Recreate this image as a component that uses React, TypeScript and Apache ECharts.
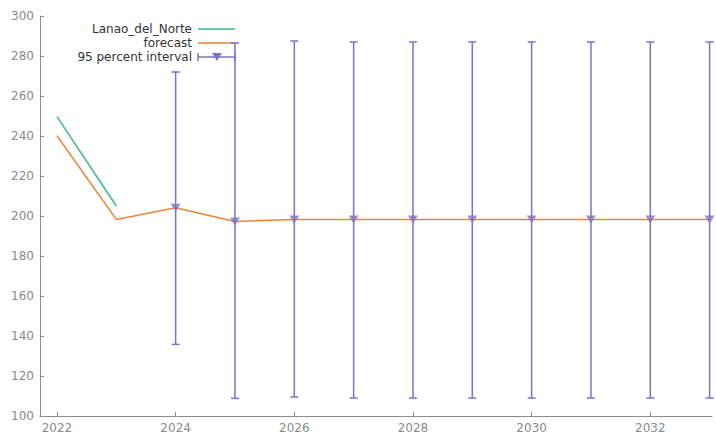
import React, { useEffect, useRef } from "react";
import * as echarts from "echarts";

const years = [2022, 2023, 2024, 2025, 2026, 2027, 2028, 2029, 2030, 2031, 2032, 2033];
const observed = [249.7, 205];
const forecast = [240.1, 198.3, 204.1, 197.3, 198.3, 198.2, 198.2, 198.2, 198.2, 198.2, 198.2, 198.2];
const intervalYears = [2024, 2025, 2026, 2027, 2028, 2029, 2030, 2031, 2032, 2033];
const intervalLow = [135.8, 108.8, 109.5, 109, 109, 109, 109, 109, 109, 109];
const intervalHigh = [272, 286.5, 287.5, 287, 287, 287, 287, 287, 287, 287];
const xTicks = [2022, 2024, 2026, 2028, 2030, 2032];
const legendNames = ["Lanao_del_Norte", "forecast", "95 percent interval"];

const GREEN = "#3fb88d";
const ORANGE = "#ec8439";
const PURPLE = "#7a74c8";
const AXIS = "#8c8c8c";
const FONT = "DejaVu Sans";

export default function App() {
  const ref = useRef<HTMLDivElement>(null);
  useEffect(() => {
    const chart = echarts.init(ref.current!, null, { renderer: "svg" });
    const intervalData = intervalYears.map((y, i) => [y, intervalLow[i], intervalHigh[i]]);
    const fcMarkerData = intervalYears.map((y) => [y, forecast[years.indexOf(y)]]);
    const capHalf = 4;
    const legX = 192;
    const legSampleX0 = 198;
    const legSampleX1 = 235;
    const legY = [29, 43, 57];
    chart.setOption({
      animation: false,
      grid: { left: 40, right: 4, top: 16, bottom: 23 },
      xAxis: {
        type: "value",
        min: 2021.714,
        max: 2033.04,
        axisLine: { lineStyle: { color: AXIS, width: 1 } },
        axisTick: { show: true, inside: true, length: 4, customValues: xTicks, lineStyle: { color: AXIS } },
        axisLabel: {
          customValues: xTicks,
          formatter: (v: number) => String(Math.round(v)),
          color: "#8a8a8a",
          fontFamily: FONT,
          fontSize: 12,
          margin: 6,
        },
        splitLine: { show: false },
      },
      yAxis: {
        type: "value",
        min: 100,
        max: 300,
        interval: 20,
        axisLine: { show: true, lineStyle: { color: AXIS, width: 1 } },
        axisTick: { show: true, inside: true, length: 4, lineStyle: { color: AXIS } },
        axisLabel: { color: "#8a8a8a", fontFamily: FONT, fontSize: 12, margin: 6 },
        splitLine: { show: false },
      },
      series: [
        {
          type: "custom",
          name: legendNames[2],
          data: intervalData,
          renderItem: (params: any, api: any) => {
            const x = api.value(0);
            const top = api.coord([x, api.value(2)]);
            const bot = api.coord([x, api.value(1)]);
            const style = { stroke: PURPLE, lineWidth: 1.5 };
            return {
              type: "group",
              children: [
                { type: "line", shape: { x1: top[0], y1: top[1], x2: bot[0], y2: bot[1] }, style },
                { type: "line", shape: { x1: top[0] - capHalf, y1: top[1], x2: top[0] + capHalf, y2: top[1] }, style },
                { type: "line", shape: { x1: bot[0] - capHalf, y1: bot[1], x2: bot[0] + capHalf, y2: bot[1] }, style },
              ],
            };
          },
          z: 2,
        },
        {
          type: "line",
          name: legendNames[0],
          data: years.slice(0, observed.length).map((y, i) => [y, observed[i]]),
          showSymbol: false,
          lineStyle: { color: GREEN, width: 1.5 },
          itemStyle: { color: GREEN },
          z: 3,
        },
        {
          type: "line",
          name: legendNames[1],
          data: years.map((y, i) => [y, forecast[i]]),
          showSymbol: false,
          lineStyle: { color: ORANGE, width: 1.5 },
          itemStyle: { color: ORANGE },
          z: 3,
        },
        {
          type: "scatter",
          name: "markers",
          data: fcMarkerData,
          symbol: "triangle",
          symbolRotate: 180,
          symbolSize: [10, 8],
          itemStyle: { color: PURPLE },
          z: 4,
        },
      ],
      graphic: [
        ...legendNames.map((n, i) => ({
          type: "text",
          x: legX,
          y: legY[i],
          style: {
            text: n,
            fill: "#333333",
            font: `12px ${FONT}`,
            align: "right",
            verticalAlign: "middle",
          },
        })),
        { type: "line", shape: { x1: legSampleX0, y1: legY[0], x2: legSampleX1, y2: legY[0] }, style: { stroke: GREEN, lineWidth: 1.5 } },
        { type: "line", shape: { x1: legSampleX0, y1: legY[1], x2: legSampleX1, y2: legY[1] }, style: { stroke: ORANGE, lineWidth: 1.5 } },
        { type: "line", shape: { x1: legSampleX0, y1: legY[2], x2: legSampleX1, y2: legY[2] }, style: { stroke: PURPLE, lineWidth: 1.5 } },
        { type: "line", shape: { x1: legSampleX0, y1: legY[2] - 4, x2: legSampleX0, y2: legY[2] + 4 }, style: { stroke: PURPLE, lineWidth: 1.5 } },
        { type: "line", shape: { x1: legSampleX1, y1: legY[2] - 4, x2: legSampleX1, y2: legY[2] + 4 }, style: { stroke: PURPLE, lineWidth: 1.5 } },
        {
          type: "polygon",
          shape: { points: [[212, legY[2] - 4], [222, legY[2] - 4], [217, legY[2] + 4]] },
          style: { fill: PURPLE },
        },
      ],
    });
    return () => chart.dispose();
  }, []);
  return <div ref={ref} style={{ width: 716, height: 439, position: "absolute", left: 0, top: 0 }} />;
}
